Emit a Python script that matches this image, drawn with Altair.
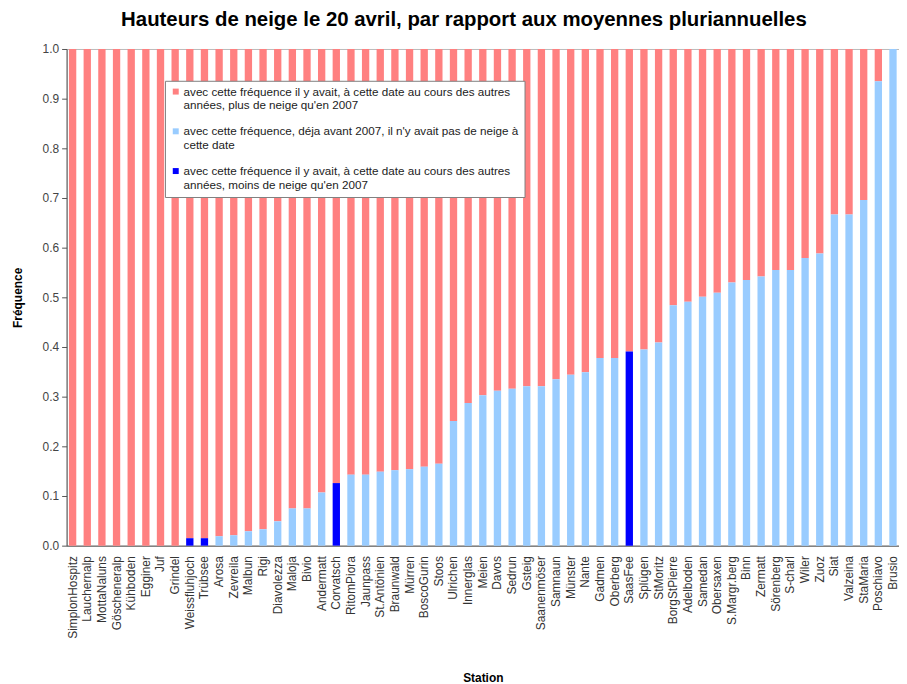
import altair as alt
import pandas as pd

stations = ["SimplonHospitz", "Lauchernalp", "MottaNaluns", "Göscheneralp", "Kühboden", "Egginer",
            "Juf", "Grindel", "Weissfluhjoch", "Trübsee", "Arosa", "Zevreila", "Malbun", "Rigi",
            "Diavolezza", "Maloja", "Bivio", "Andermatt", "Corvatsch", "RitomPiora", "Jaunpass",
            "St.Antönien", "Braunwald", "Mürren", "BoscoGurin", "Stoos", "Ulrichen", "Innerglas",
            "Meien", "Davos", "Sedrun", "Gsteig", "Saanenmöser", "Samnaun", "Münster", "Nante",
            "Gadmen", "Oberberg", "SaasFee", "Splügen", "StMoritz", "BorgStPierre", "Adelboden",
            "Samedan", "Obersaxen", "S.Margr.berg", "Binn", "Zermatt", "Sörenberg", "S-charl",
            "Wiler", "Zuoz", "Siat", "Valzeina", "StaMaria", "Poschiavo", "Brusio"]

# light blue: already before 2007 no snow on this date
no_snow = [0, 0, 0, 0, 0, 0, 0, 0, 0, 0, 0.019, 0.021, 0.029, 0.033, 0.049, 0.075, 0.075, 0.107,
           0, 0.143, 0.143, 0.149, 0.152, 0.154, 0.159, 0.165, 0.251, 0.287, 0.303, 0.312, 0.316,
           0.321, 0.321, 0.335, 0.344, 0.349, 0.378, 0.378, 0, 0.395, 0.409, 0.484, 0.491, 0.501,
           0.509, 0.530, 0.535, 0.542, 0.555, 0.555, 0.579, 0.588, 0.667, 0.667, 0.696, 0.935, 1.0]

# dark blue: less snow than in 2007
less_snow = [0, 0, 0, 0, 0, 0, 0, 0, 0.015, 0.015, 0, 0, 0, 0, 0, 0, 0, 0, 0.126, 0, 0, 0, 0, 0,
             0, 0, 0, 0, 0, 0, 0, 0, 0, 0, 0, 0, 0, 0, 0.391, 0, 0, 0, 0, 0, 0, 0, 0, 0, 0, 0,
             0, 0, 0, 0, 0, 0, 0]

labels = [
    "avec cette fréquence il y avait, à cette date au cours des autres|années, plus de neige qu'en 2007",
    "avec cette fréquence, déja avant 2007, il n'y avait pas de neige à|cette date",
    "avec cette fréquence il y avait, à cette date au cours des autres|années, moins de neige qu'en 2007",
]
colors = ["#FF8080", "#99CCFF", "#0000FF"]
stack_order = [3, 1, 2]

rows = []
for i, s in enumerate(stations):
    more = round(1 - no_snow[i] - less_snow[i], 4)
    vals = [more, no_snow[i], less_snow[i]]
    for k in range(3):
        rows.append({"Station": s, "cat": labels[k], "value": vals[k], "ord": stack_order[k]})
df = pd.DataFrame(rows)

chart = alt.Chart(df).mark_bar().encode(
    x=alt.X("Station:N", sort=stations,
            scale=alt.Scale(paddingInner=0.5, paddingOuter=0.16),
            axis=alt.Axis(title="Station", labelAngle=-90, labelAlign="right", labelBaseline="middle",
                          labelFontSize=12, labelColor="#333333", ticks=False, labelPadding=10,
                          domainColor="#555555", titleFontSize=12, titleFontWeight="bold",
                          titleY=133, titleBaseline="middle", labelOverlap=False)),
    y=alt.Y("value:Q", stack="zero", scale=alt.Scale(domain=[0, 1], nice=False),
            axis=alt.Axis(title="Fréquence", values=[i / 10 for i in range(11)], format=".1f",
                          grid=False, tickSize=5, tickColor="#555555", domainColor="#555555",
                          labelFontSize=12, labelColor="#444444", labelPadding=3,
                          titleFontSize=12, titleFontWeight="bold", titleX=-49, titleY=250,
                          titleAlign="center", titleBaseline="middle")),
    color=alt.Color("cat:N", sort=labels, scale=alt.Scale(domain=labels, range=colors),
                    legend=alt.Legend(title=None, orient="none", legendX=99, legendY=32,
                                      fillColor="white", strokeColor="#808080", padding=5,
                                      labelFontSize=11.75, labelColor="#222222", labelLimit=420,
                                      labelOffset=2,
                                      symbolType="square", symbolSize=36, symbolStrokeWidth=0,
                                      rowPadding=13, labelExpr="split(datum.label, '|')")),
    order=alt.Order("ord:Q"),
).properties(
    width=838, height=500,
    title=alt.TitleParams("Hauteurs de neige le 20 avril, par rapport aux moyennes pluriannuelles",
                          fontSize=20.5, fontWeight="bold", color="black", anchor="middle",
                          dx=-19, offset=13),
    autosize=alt.AutoSizeParams(type="none"),
    padding={"left": 59, "top": 39, "right": 0, "bottom": 137},
).configure(font="Liberation Sans").configure_view(stroke="#BBBBBB")

chart.save("out.html", embed_options={"renderer": "svg", "actions": False})
